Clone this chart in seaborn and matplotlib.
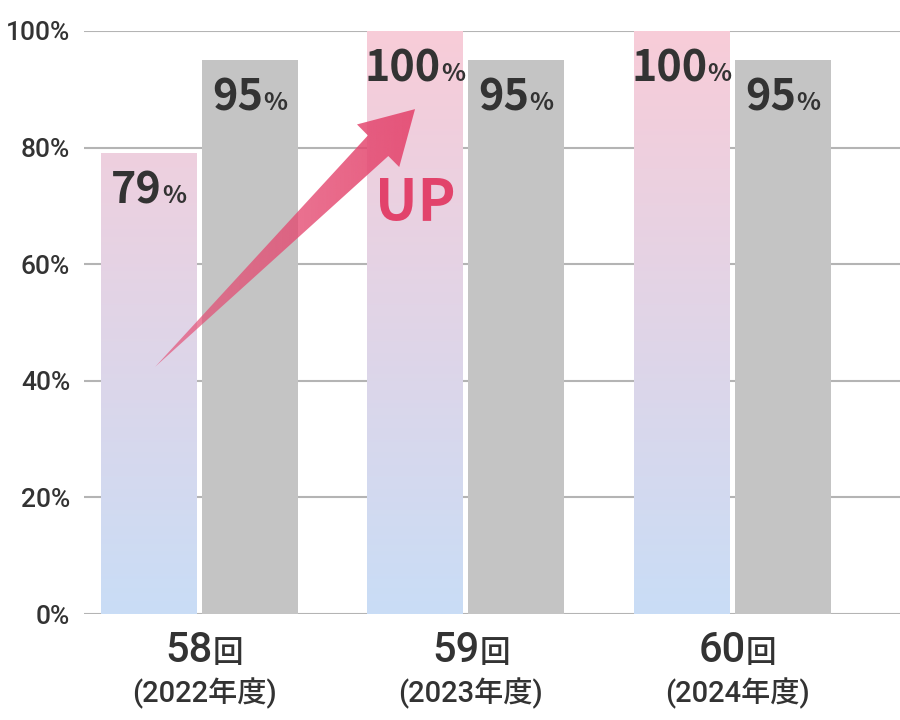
import numpy as np
import pandas as pd
import matplotlib
matplotlib.use("Agg")
import matplotlib.pyplot as plt
import seaborn as sns
from matplotlib.colors import to_rgb
from matplotlib.patches import Polygon

# data
rounds = ["58回", "59回", "60回"]
round_nums = ["58", "59", "60"]
years = ["(2022年度)", "(2023年度)", "(2024年度)"]
school_rate = [79, 100, 100]
national_rate = [95, 95, 95]
series = ["school", "national"]
y_ticks = [0, 20, 40, 60, 80, 100]

TEXT = "#333333"
GRAY_BAR = "#c4c4c4"
GRID = "#b4b4b4"
PINK_TOP = "#f8ccd8"
BLUE_BOTTOM = "#c9ddf6"
ACCENT = "#e4476f"
UP_COLOR = "#e2436b"

CJK = ["Noto Sans CJK JP", "DejaVu Sans"]
ROBOTO = ["Roboto", "Noto Sans CJK JP", "DejaVu Sans"]

sns.set_theme(style="white")
plt.rcParams["font.family"] = CJK

df = pd.DataFrame({
    "round": rounds * 2,
    "series": [series[0]] * len(rounds) + [series[1]] * len(rounds),
    "rate": school_rate + national_rate,
})

fig = plt.figure(figsize=(9, 7.2), dpi=100)
ax = fig.add_axes([84 / 900, 106 / 720, 816 / 900, 583 / 720])

sns.barplot(data=df, x="round", y="rate", hue="series", hue_order=series,
            palette=[PINK_TOP, GRAY_BAR], saturation=1, width=0.758, gap=0.05,
            linewidth=0, legend=False, ax=ax)

XLIM = (-0.4315, 2.63)
ax.set_xlim(*XLIM)
ax.set_ylim(0, 100)

# vertical gradient for the school bars (blue at 0 -> pink at 100)
grad = np.linspace(0, 1, 256)[:, None, None]
c0, c1 = np.array(to_rgb(BLUE_BOTTOM)), np.array(to_rgb(PINK_TOP))
img = c0 + (c1 - c0) * grad
for bar in ax.containers[0]:
    x0, w = bar.get_x(), bar.get_width()
    im = ax.imshow(img, extent=(x0, x0 + w, 0, 100), origin="lower",
                   aspect="auto", interpolation="bilinear", zorder=bar.get_zorder())
    im.set_clip_path(bar)
    bar.set_facecolor("none")
ax.set_xlim(*XLIM)
ax.set_ylim(0, 100)

# axes styling
ax.set_yticks(y_ticks)
ax.set_yticklabels([f"{t}%" for t in y_ticks], family=ROBOTO, fontweight="medium")
ax.yaxis.grid(True, color=GRID, linewidth=1.5)
ax.xaxis.grid(False)
ax.set_axisbelow(True)
sns.despine(ax=ax, left=True, bottom=True)
ax.tick_params(axis="y", length=0, pad=10, labelsize=19, labelcolor=TEXT)
ax.tick_params(axis="x", length=0, labelbottom=False)
ax.set_xlabel("")
ax.set_ylabel("")

renderer = fig.canvas.get_renderer()


def pair_label(xy, big, small, big_size, small_size, dy, xycoords, weight,
               big_family=CJK, small_family=CJK):
    kw = dict(xycoords=xycoords, textcoords="offset points", va="baseline",
              color=TEXT, fontweight=weight, annotation_clip=False, zorder=5)
    a = ax.annotate(big, xy, xytext=(0, dy), ha="right", fontsize=big_size,
                    family=big_family, **kw)
    b = ax.annotate(small, xy, xytext=(0, dy), ha="left", fontsize=small_size,
                    family=small_family, **kw)
    wa = a.get_window_extent(renderer).width
    wb = b.get_window_extent(renderer).width
    dx = (wa - wb) / 2 * 72 / fig.dpi
    a.xyann = (dx, dy)
    b.xyann = (dx, dy)


# value labels inside the bars
for container, values in zip(ax.containers, [school_rate, national_rate]):
    for bar, v in zip(container, values):
        cx = bar.get_x() + bar.get_width() / 2
        pair_label((cx, v), str(v), "%", 31, 18, -36, "data", "bold")

# two-line category labels
for i, (num, yr) in enumerate(zip(round_nums, years)):
    pair_label((i + 0.02, 0), num, "回", 30, 22, -34.6, ("data", "axes fraction"),
               "medium", big_family=ROBOTO)
    ax.annotate(yr, (i + 0.02, 0), xycoords=("data", "axes fraction"),
                xytext=(0, -63.4), textcoords="offset points", ha="center",
                va="baseline", fontsize=21, family=ROBOTO, fontweight="medium",
                color=TEXT, annotation_clip=False)

# tapered "UP" arrow from the first school bar to the second
bars = ax.containers[0]
centers = [b.get_x() + b.get_width() / 2 for b in bars]
start = (centers[0] + 0.025, 42.4)
end = (centers[1], 86.6)

p0 = ax.transData.transform(start)
p1 = ax.transData.transform(end)
d = p1 - p0
u = d / np.hypot(*d)
n = np.array([-u[1], u[0]])
tail_w, head_w, head_len = 29, 60, 52
base = p1 - u * head_len
pts_px = np.array([p0, base - n * tail_w / 2, base - n * head_w / 2, p1,
                   base + n * head_w / 2, base + n * tail_w / 2])
pts = ax.transData.inverted().transform(pts_px)
arrow = Polygon(pts, closed=True, facecolor="none", edgecolor="none",
                transform=ax.transData)
ax.add_patch(arrow)

xs, ys = pts[:, 0], pts[:, 1]
ramp = np.linspace(0.62, 0.9, 200)[None, :]
rgba = np.zeros((2, 200, 4))
rgba[..., :3] = to_rgb(ACCENT)
rgba[..., 3] = ramp
aim = ax.imshow(rgba, extent=(xs.min(), xs.max(), ys.min(), ys.max()),
                origin="lower", aspect="auto", interpolation="bilinear", zorder=3)
aim.set_clip_path(arrow)

ax.text(centers[1], 67.4, "UP", ha="center", va="baseline", fontsize=41,
        fontweight="bold", color=UP_COLOR, zorder=5)

ax.set_xlim(*XLIM)
ax.set_ylim(0, 100)

fig.savefig("out.png", dpi=100)
